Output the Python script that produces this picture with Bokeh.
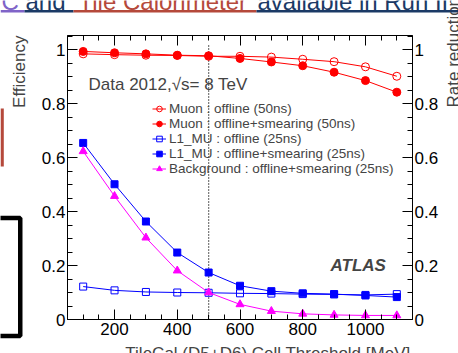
import numpy as np
from bokeh.plotting import figure
from bokeh.models import (Range1d, LinearAxis, FixedTicker, Label, Legend, LegendItem,
                          BoxAnnotation, NumeralTickFormatter)
from bokeh.embed import file_html
from bokeh.resources import INLINE

# ---------------- data ----------------
thresholds = [100, 200, 300, 400, 500, 600, 700, 800, 900, 1000, 1100]
muon_offline_50ns = [0.984, 0.981, 0.979, 0.978, 0.975, 0.975, 0.972, 0.964, 0.955, 0.936, 0.901]
muon_smear_50ns = [0.993, 0.988, 0.984, 0.979, 0.977, 0.967, 0.954, 0.940, 0.916, 0.885, 0.842]
l1mu_offline_25ns = [0.122, 0.108, 0.102, 0.100, 0.099, 0.097, 0.096, 0.094, 0.093, 0.091, 0.094]
l1mu_smear_25ns = [0.654, 0.501, 0.363, 0.248, 0.174, 0.125, 0.105, 0.097, 0.094, 0.089, 0.083]
background_smear_25ns = [0.623, 0.457, 0.303, 0.181, 0.100, 0.056, 0.031, 0.021, 0.017, 0.015, 0.015]

legend_labels = ["Muon : offline (50ns)", "Muon : offline+smearing (50ns)",
                 "L1_MU : offline (25ns)", "L1_MU : offline+smearing (25ns)",
                 "Background : offline+smearing (25ns)"]
x_major_ticks = [200, 400, 600, 800, 1000]
x_minor_ticks = list(range(50, 1151, 50))
y_major_ticks = [0, 0.2, 0.4, 0.6, 0.8, 1.0]
y_minor_ticks = [round(i * 0.05, 2) for i in range(0, 22)]
chosen_threshold = 500
threshold_line_top = 1.015
x_axis_lo, x_axis_hi = 50, 1150
y_axis_lo, y_axis_hi = 0, 1.052

# ---------------- layout (pixels) ----------------
W, H = 458, 353
FL, FR, FT, FB = 67, 412, 35, 319     # axis box on the canvas
kx = (FR - FL) / (x_axis_hi - x_axis_lo)
ky = (FB - FT) / (y_axis_hi - y_axis_lo)
x_start = x_axis_lo - FL / kx
x_end = x_axis_hi + (W - FR) / kx
y_start = y_axis_lo - (H - FB) / ky
y_end = y_axis_hi + FT / ky

FONT = "Liberation Sans"

p = figure(width=W, height=H, output_backend="svg", toolbar_location=None,
           x_range=Range1d(x_start, x_end), y_range=Range1d(y_start, y_end),
           min_border=0, min_border_left=0, min_border_right=0,
           min_border_top=0, min_border_bottom=0,
           background_fill_color="white", border_fill_color="white")
p.outline_line_color = None
p.grid.visible = False
p.xaxis.visible = False
p.yaxis.visible = False


def style_axis(ax, labels=True):
    ax.axis_line_color = "black"
    ax.axis_line_width = 1
    ax.major_tick_line_color = "black"
    ax.minor_tick_line_color = "black"
    ax.major_tick_in = 10
    ax.major_tick_out = 0
    ax.minor_tick_in = 5
    ax.minor_tick_out = 0
    ax.major_label_text_font = FONT
    ax.major_label_text_color = "black"
    if labels:
        ax.major_label_text_font_size = "17px"
    else:
        ax.major_label_text_font_size = "0px"
        ax.major_label_text_alpha = 0
    ax.major_label_standoff = 2


xt = FixedTicker(ticks=x_major_ticks, minor_ticks=x_minor_ticks)
yt = FixedTicker(ticks=y_major_ticks, minor_ticks=y_minor_ticks)

bottom = LinearAxis(ticker=xt, fixed_location=y_axis_lo, bounds=(x_axis_lo, x_axis_hi))
style_axis(bottom)
bottom.major_label_standoff = 3
p.add_layout(bottom, "below")

top = LinearAxis(ticker=xt, fixed_location=y_axis_hi, bounds=(x_axis_lo, x_axis_hi))
style_axis(top, labels=False)
p.add_layout(top, "above")

left = LinearAxis(ticker=yt, fixed_location=x_axis_lo, bounds=(y_axis_lo, y_axis_hi),
                  formatter=NumeralTickFormatter(format="0.[0]"))
style_axis(left)
p.add_layout(left, "left")

right = LinearAxis(ticker=yt, fixed_location=x_axis_hi, bounds=(y_axis_lo, y_axis_hi),
                   formatter=NumeralTickFormatter(format="0.[0]"))
style_axis(right)
p.add_layout(right, "right")

# threshold line
p.line([chosen_threshold, chosen_threshold], [0, threshold_line_top],
       line_color="black", line_dash="1 2", line_width=1.3)

RED, BLUE, MAG = "#ff0000", "#0000ff", "#ff00ff"
items = []

l1 = p.line(thresholds, muon_offline_50ns, line_color=RED, line_width=1)
s1 = p.scatter(thresholds, muon_offline_50ns, marker="circle", size=8,
               line_color=RED, fill_color=None, line_width=1)
items.append(LegendItem(label=legend_labels[0], renderers=[l1, s1]))

l2 = p.line(thresholds, muon_smear_50ns, line_color=RED, line_width=1)
s2 = p.scatter(thresholds, muon_smear_50ns, marker="circle", size=8,
               line_color=RED, fill_color=RED)
items.append(LegendItem(label=legend_labels[1], renderers=[l2, s2]))

l3 = p.line(thresholds, l1mu_offline_25ns, line_color=BLUE, line_width=1)
s3 = p.scatter(thresholds, l1mu_offline_25ns, marker="square", size=7,
               line_color=BLUE, fill_color=None, line_width=1)
items.append(LegendItem(label=legend_labels[2], renderers=[l3, s3]))

l4 = p.line(thresholds, l1mu_smear_25ns, line_color=BLUE, line_width=1)
s4 = p.scatter(thresholds, l1mu_smear_25ns, marker="square", size=7,
               line_color=BLUE, fill_color=BLUE)
items.append(LegendItem(label=legend_labels[3], renderers=[l4, s4]))

l5 = p.line(thresholds, background_smear_25ns, line_color=MAG, line_width=1)
s5 = p.scatter(thresholds, background_smear_25ns, marker="triangle", size=8,
               line_color=MAG, fill_color=MAG)
items.append(LegendItem(label=legend_labels[4], renderers=[l5, s5]))

legend = Legend(items=items, location=(152, H - 176), padding=0, margin=0, spacing=0,
                label_height=15, glyph_height=15, glyph_width=14, label_standoff=3,
                label_text_font=FONT, label_text_font_size="13.5px",
                border_line_alpha=0, background_fill_alpha=0)
p.add_layout(legend)


# ---------------- texts (screen px: x from left, y measured from top) ----------------
def lbl(text, x, y_from_top, size, **kw):
    p.add_layout(Label(text=text, x=x, y=H - y_from_top, x_units="screen", y_units="screen",
                       text_font=FONT, text_font_size=size, text_baseline="middle", **kw))


lbl("Data 2012,\u221as= 8 TeV", 88, 83.5, "17px")
lbl("ATLAS", 330, 265, "17px", text_font_style="bold italic")
lbl("Efficiency", 18.5, 35, "17px", angle=np.pi / 2, text_align="right")
lbl("Rate reduction", 453, 107, "17px", angle=np.pi / 2, text_align="left")
lbl("TileCal (D5+D6) Cell Threshold [MeV]", 410, 353, "17px", text_align="right")

# cropped slide title and side shapes
NAVY, RUST, PURPLE = "#1b3a66", "#b5493b", "#8064c8"
lbl("C", 1, 1, "24px", text_color=PURPLE)
lbl("and", 25, 1, "24px", text_color=NAVY)
lbl("Tile Calorimeter", 78, 1, "24px", text_color=RUST)
lbl("available in Run II", 257, 1, "24px", text_color=NAVY)


def box(l_, r_, t_, b_, **kw):
    p.add_layout(BoxAnnotation(left=l_, right=r_, top=H - t_, bottom=H - b_,
                               left_units="screen", right_units="screen",
                               top_units="screen", bottom_units="screen", **kw))


for l_, r_, c_ in [(0, 24, PURPLE), (24, 73, NAVY), (73, 256, RUST), (256, 458, NAVY)]:
    box(l_, r_, 9.5, 12, fill_color=c_, fill_alpha=1, line_alpha=0)

box(0, 3.3, 108, 166, fill_color=RUST, fill_alpha=1, line_alpha=0)
box(-30, 19.75, 217.5, 335.5, fill_alpha=0, line_color="black", line_alpha=1,
    line_width=4.5)

open("out.html", "w").write(file_html(p, INLINE))
